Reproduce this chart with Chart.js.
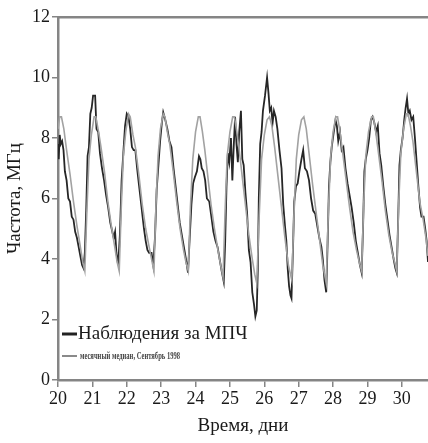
<!DOCTYPE html>
<html>
<head>
<meta charset="utf-8">
<script src="https://cdn.jsdelivr.net/npm/chart.js@4.4.0/dist/chart.umd.min.js"></script>
<style>
  body { margin: 0; background: #fff; }
  #wrap { width: 428px; height: 443px; }
</style>
</head>
<body>
<div id="wrap"><canvas id="mufChart" width="428" height="443"></canvas></div>
<script>
// Observed MUF (dark line): days, MHz
const obsDays = [
  20.00, 20.02, 20.05, 20.08, 20.12, 20.16, 20.20, 20.25, 20.30, 20.35, 20.40, 20.45, 20.50, 20.55, 20.60, 20.65, 20.70, 20.74, 20.78, 20.82, 20.86, 20.90, 20.94, 20.98,
  21.02, 21.08, 21.12, 21.17, 21.22, 21.28, 21.34, 21.40, 21.46, 21.52, 21.58, 21.62, 21.66, 21.70, 21.75, 21.80, 21.85, 21.90, 21.95,
  22.00, 22.05, 22.10, 22.15, 22.20, 22.25, 22.30, 22.35, 22.40, 22.45, 22.50, 22.55, 22.60, 22.65, 22.72, 22.77, 22.82, 22.87, 22.92, 22.97,
  23.02, 23.06, 23.12, 23.18, 23.24, 23.30, 23.36, 23.42, 23.48, 23.54, 23.60, 23.66, 23.72, 23.78, 23.83, 23.88, 23.93, 23.98,
  24.04, 24.10, 24.14, 24.18, 24.23, 24.28, 24.33, 24.40, 24.46, 24.52, 24.58, 24.64, 24.70, 24.76, 24.82, 24.86, 24.90, 24.94, 24.98,
  25.03, 25.07, 25.11, 25.15, 25.19, 25.23, 25.27, 25.32, 25.36, 25.40, 25.45, 25.50, 25.55, 25.60, 25.65, 25.70, 25.74, 25.78, 25.81, 25.84, 25.88, 25.92, 25.96,
  26.02, 26.08, 26.12, 26.16, 26.20, 26.24, 26.28, 26.33, 26.38, 26.44, 26.50, 26.55, 26.60, 26.64, 26.68, 26.72, 26.76, 26.79, 26.83, 26.87, 26.92, 26.97,
  27.02, 27.08, 27.13, 27.18, 27.24, 27.30, 27.36, 27.42, 27.48, 27.54, 27.60, 27.66, 27.70, 27.75, 27.80, 27.84, 27.88, 27.92, 27.96,
  28.02, 28.07, 28.11, 28.15, 28.20, 28.25, 28.30, 28.36, 28.42, 28.48, 28.54, 28.60, 28.66, 28.72, 28.78, 28.83, 28.87, 28.91, 28.95,
  29.00, 29.05, 29.10, 29.15, 29.20, 29.25, 29.30, 29.35, 29.40, 29.46, 29.52, 29.58, 29.64, 29.70, 29.76, 29.81, 29.85, 29.89, 29.93, 29.97,
  30.02, 30.07, 30.11, 30.15, 30.19, 30.23, 30.28, 30.33, 30.38, 30.43, 30.48, 30.53, 30.57, 30.63, 30.68, 30.72, 30.76
];
const obsFreq = [
  7.8, 7.3, 8.1, 7.8, 7.9, 7.6, 6.9, 6.6, 6.0, 5.9, 5.4, 5.3, 4.9, 4.7, 4.4, 4.1, 3.8, 3.7, 4.2, 5.6, 7.4, 7.7, 8.8, 9.0,
  9.4, 9.4, 8.3, 8.2, 7.5, 7.0, 6.6, 6.1, 5.7, 5.2, 4.9, 4.7, 4.9, 4.2, 3.8, 4.8, 6.6, 7.5, 8.4,
  8.8, 8.7, 8.3, 7.7, 7.6, 7.6, 7.0, 6.5, 6.0, 5.5, 5.0, 4.6, 4.3, 4.2, 4.2, 3.8, 4.7, 6.3, 7.1, 7.9,
  8.5, 8.85, 8.6, 8.3, 7.9, 7.7, 7.0, 6.4, 5.8, 5.2, 4.8, 4.4, 4.0, 3.55, 4.7, 5.8, 6.5, 6.7,
  6.9, 7.4, 7.3, 7.0, 6.9, 6.6, 6.0, 5.9, 5.4, 4.9, 4.6, 4.4, 4.0, 3.6, 3.25, 4.5, 6.4, 7.5, 7.2,
  8.0, 6.6, 7.7, 8.7, 7.8, 7.2, 8.2, 8.9, 7.3, 7.1, 6.2, 5.5, 4.3, 3.9, 2.9, 2.5, 2.1, 2.3, 3.6, 6.0, 7.8, 8.2, 8.9,
  9.4, 10.0, 9.5, 8.9, 9.0, 8.5, 8.9, 8.7, 8.3, 7.6, 7.0, 5.8, 5.1, 4.6, 3.7, 3.1, 2.8, 2.7, 4.2, 5.9, 6.4, 6.5,
  6.9, 7.3, 7.6, 7.0, 6.9, 6.6, 6.0, 5.6, 5.5, 5.1, 4.7, 4.4, 4.0, 3.3, 2.9, 4.5, 6.4, 7.2, 7.7,
  8.2, 8.6, 8.4, 7.9, 8.2, 7.6, 7.7, 7.0, 6.5, 6.1, 5.7, 5.2, 4.6, 4.2, 3.8, 3.55, 5.0, 6.9, 7.3,
  7.6, 8.0, 8.6, 8.7, 8.5, 8.2, 8.4, 7.5, 7.1, 6.4, 5.8, 5.3, 4.8, 4.4, 4.0, 3.7, 3.55, 5.2, 7.1, 7.6,
  8.0, 8.6, 9.0, 9.3, 8.8, 8.9, 8.6, 8.7, 8.0, 7.2, 6.4, 5.7, 5.4, 5.4, 5.0, 4.6, 3.9
];

// Monthly median, September 1998 (grey line)
const medDays = [
  20.00, 20.05, 20.10, 20.17, 20.25, 20.35, 20.45, 20.55, 20.65, 20.72, 20.78, 20.84, 20.90, 20.97,
  21.05, 21.10, 21.18, 21.25, 21.35, 21.45, 21.55, 21.65, 21.72, 21.78, 21.84, 21.90, 21.97,
  22.05, 22.10, 22.18, 22.25, 22.35, 22.45, 22.55, 22.65, 22.72, 22.79, 22.85, 22.91, 22.98,
  23.06, 23.11, 23.18, 23.25, 23.35, 23.45, 23.55, 23.65, 23.72, 23.79, 23.85, 23.92, 24.00,
  24.08, 24.13, 24.20, 24.27, 24.35, 24.45, 24.55, 24.65, 24.73, 24.80, 24.86, 24.92, 25.00,
  25.08, 25.13, 25.20, 25.27, 25.35, 25.45, 25.55, 25.65, 25.72, 25.78, 25.85, 25.92, 26.00,
  26.08, 26.15, 26.22, 26.30, 26.40, 26.50, 26.60, 26.70, 26.80, 26.86, 26.93, 27.00,
  27.08, 27.15, 27.22, 27.30, 27.40, 27.50, 27.60, 27.70, 27.80, 27.86, 27.93, 28.00,
  28.08, 28.13, 28.20, 28.28, 28.38, 28.48, 28.58, 28.68, 28.76, 28.83, 28.89, 28.95, 29.03,
  29.12, 29.17, 29.24, 29.32, 29.42, 29.52, 29.62, 29.72, 29.79, 29.85, 29.91, 29.97, 30.05,
  30.13, 30.18, 30.25, 30.32, 30.42, 30.52, 30.62, 30.70, 30.76
];
const medFreq = [
  8.3, 8.7, 8.7, 8.3, 7.6, 6.8, 5.9, 5.1, 4.4, 3.9, 3.6, 5.6, 7.3, 8.1,
  8.7, 8.7, 8.2, 7.7, 6.9, 5.9, 5.1, 4.4, 3.9, 3.6, 5.7, 7.4, 8.2,
  8.8, 8.7, 8.1, 7.7, 6.8, 5.8, 5.0, 4.4, 4.0, 3.6, 5.8, 7.4, 8.3,
  8.8, 8.7, 8.2, 7.8, 6.9, 5.9, 5.0, 4.3, 3.9, 3.6, 5.7, 7.3, 8.2,
  8.7, 8.7, 8.2, 7.6, 6.8, 5.8, 5.0, 4.3, 3.8, 3.4, 5.6, 7.4, 8.2,
  8.7, 8.7, 8.2, 7.6, 6.8, 5.8, 4.8, 4.0, 3.5, 3.2, 5.4, 7.3, 8.1,
  8.6, 8.7, 8.4, 7.7, 6.7, 5.7, 4.7, 3.8, 3.3, 5.4, 7.3, 8.1,
  8.6, 8.7, 8.3, 7.5, 6.5, 5.6, 4.7, 3.8, 3.2, 5.5, 7.4, 8.2,
  8.7, 8.7, 8.2, 7.5, 6.6, 5.7, 4.9, 4.3, 3.9, 3.6, 5.8, 7.4, 8.2,
  8.7, 8.7, 8.2, 7.5, 6.6, 5.6, 4.8, 4.2, 3.9, 3.6, 5.9, 7.5, 8.3,
  8.8, 8.8, 8.4, 7.9, 6.9, 5.9, 5.3, 4.7, 4.1
];

const xTicks = [20, 21, 22, 23, 24, 25, 26, 27, 28, 29, 30];
const yTicks = [0, 2, 4, 6, 8, 10, 12];
const legendLabels = ['Наблюдения за МПЧ', 'месячный медиан, Сентябрь 1998'];

const FONT = 'Liberation Serif';
const AXIS = '#858585';

function toPoints(xs, ys) {
  return xs.map((x, i) => ({ x: x, y: ys[i] }));
}

// legend drawn inside the plot, bottom-left
const insideLegend = {
  id: 'insideLegend',
  afterDraw(chart) {
    const ctx = chart.ctx;
    const left = chart.chartArea.left;
    ctx.save();
    ctx.lineCap = 'butt';
    ctx.strokeStyle = '#222';
    ctx.lineWidth = 3;
    ctx.beginPath();
    ctx.moveTo(left + 4, 334);
    ctx.lineTo(left + 19, 334);
    ctx.stroke();
    ctx.fillStyle = '#1a1a1a';
    ctx.font = '19px "' + FONT + '"';
    ctx.textBaseline = 'middle';
    ctx.fillText(legendLabels[0], left + 20, 334);

    ctx.strokeStyle = '#8a8a8a';
    ctx.lineWidth = 2;
    ctx.beginPath();
    ctx.moveTo(left + 4, 356);
    ctx.lineTo(left + 19, 356);
    ctx.stroke();
    ctx.fillStyle = '#444';
    ctx.font = 'bold 11px "' + FONT + '"';
    ctx.fillText(legendLabels[1], left + 22, 356, 100);
    ctx.restore();
  }
};

const ctx = document.getElementById('mufChart').getContext('2d');
new Chart(ctx, {
  type: 'line',
  data: {
    datasets: [
      {
        label: legendLabels[1],
        data: toPoints(medDays, medFreq),
        borderColor: '#a2a2a2',
        borderWidth: 1.6,
        pointRadius: 0,
        tension: 0
      },
      {
        label: legendLabels[0],
        data: toPoints(obsDays, obsFreq),
        borderColor: '#262626',
        borderWidth: 1.8,
        pointRadius: 0,
        tension: 0
      }
    ]
  },
  plugins: [insideLegend],
  options: {
    responsive: false,
    animation: false,
    devicePixelRatio: 1,
    layout: { padding: { top: 17, right: 0, left: 0, bottom: 0 } },
    plugins: {
      legend: { display: false },
      tooltip: { enabled: false }
    },
    scales: {
      x: {
        type: 'linear',
        min: 20,
        max: 30.76,
        afterFit(scale) { scale.height = 63; },
        afterBuildTicks(scale) { scale.ticks = xTicks.map(v => ({ value: v })); },
        grid: { display: true, drawOnChartArea: false, drawTicks: true, tickLength: 7, color: AXIS, lineWidth: 1.5 },
        border: { display: true, color: AXIS, width: 2.5 },
        ticks: { color: '#1a1a1a', padding: 1, maxRotation: 0, font: { family: FONT, size: 18 } },
        title: { display: true, text: 'Время, дни', color: '#1a1a1a', padding: { top: 0, bottom: 6 }, font: { family: FONT, size: 19 } }
      },
      xTop: {
        type: 'linear',
        position: 'top',
        min: 20,
        max: 30.76,
        afterFit(scale) { scale.height = 0; },
        grid: { display: false },
        ticks: { display: false },
        border: { display: true, color: AXIS, width: 2.5 }
      },
      y: {
        min: 0,
        max: 12,
        afterFit(scale) { scale.width = 58; },
        afterBuildTicks(scale) { scale.ticks = yTicks.map(v => ({ value: v })); },
        grid: { display: true, drawOnChartArea: false, drawTicks: true, tickLength: 6, color: AXIS, lineWidth: 1.5 },
        border: { display: true, color: AXIS, width: 2.5 },
        ticks: { color: '#1a1a1a', padding: 2, font: { family: FONT, size: 18 } },
        title: { display: true, text: 'Частота, МГц', color: '#1a1a1a', padding: { top: 4, bottom: 0 }, font: { family: FONT, size: 19 } }
      }
    }
  }
});
</script>
</body>
</html>
